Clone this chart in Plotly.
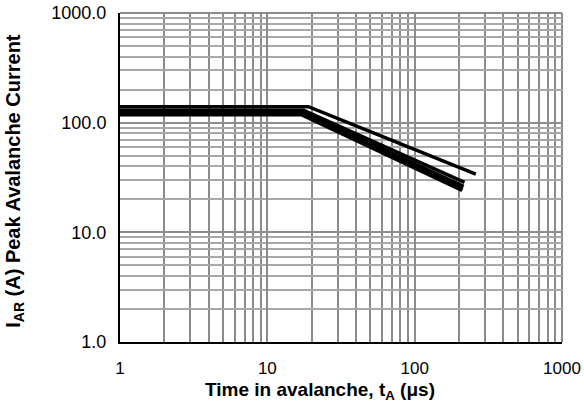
import plotly.graph_objects as go

# Curves: time (us) and peak avalanche current (A)
t_top = [1, 19, 260]
i_top = [140, 140, 34]

t_c2 = [1, 17.6, 218]
i_c2 = [130, 130, 28.5]

t_c3 = [1, 17.4, 215]
i_c3 = [125, 125, 26.2]

t_c4 = [1, 17.2, 212]
i_c4 = [121, 121, 24.8]

t_c5 = [1, 17.0, 210]
i_c5 = [118, 118, 24.1]

series = [(t_top, i_top), (t_c2, i_c2), (t_c3, i_c3), (t_c4, i_c4), (t_c5, i_c5)]

x_tickvals = [1, 10, 100, 1000]
x_ticktext = ["1", "10", "100", "1000"]
y_tickvals = [1, 10, 100, 1000]
y_ticktext = ["1.0", "10.0", "100.0", "1000.0"]

x_title = "<b>Time in avalanche, t<sub>A</sub> (μs)</b>"
y_title = "<b>I<sub>AR</sub> (A) Peak Avalanche Current</b>"

FONT = "Liberation Sans, Arial, sans-serif"
GRID = "#8c8c8c"

fig = go.Figure()
for t, i in series:
    fig.add_trace(go.Scatter(x=t, y=i, mode="lines",
                             line=dict(color="black", width=3.5),
                             showlegend=False, hoverinfo="skip"))

fig.update_layout(
    width=584, height=407,
    margin=dict(l=120, r=22, t=13, b=65),
    paper_bgcolor="white", plot_bgcolor="white",
    font=dict(family=FONT, size=17, color="black"),
    showlegend=False,
)

fig.update_xaxes(
    type="log", range=[0, 3], automargin=False,
    tickvals=x_tickvals, ticktext=x_ticktext,
    ticks="outside", ticklen=10, tickcolor="rgba(0,0,0,0)",
    showgrid=True, gridcolor=GRID, gridwidth=2,
    minor=dict(dtick="D1", showgrid=True, gridcolor=GRID, gridwidth=2, ticks=""),
    showline=True, linecolor="black", linewidth=2,
    zeroline=False,
    tickfont=dict(size=17),
)
fig.update_yaxes(
    type="log", range=[0, 3], automargin=False,
    tickvals=y_tickvals, ticktext=y_ticktext,
    ticks="outside", ticklen=8, tickcolor="rgba(0,0,0,0)",
    showgrid=True, gridcolor=GRID, gridwidth=2,
    minor=dict(dtick="D1", showgrid=True, gridcolor="#a8a8a8", gridwidth=1.5, ticks=""),
    showline=True, linecolor="black", linewidth=2,
    zeroline=False,
    tickfont=dict(size=18),
)

# axis titles
fig.add_annotation(text=x_title, xref="paper", yref="paper", x=0.4525, y=-0.149,
                   xanchor="center", yanchor="middle", showarrow=False,
                   font=dict(size=19, family=FONT))
fig.add_annotation(text=y_title, xref="paper", yref="paper", x=-0.2376, y=0.49,
                   xanchor="center", yanchor="middle", showarrow=False, textangle=-90,
                   font=dict(size=20, family=FONT))

# gray top and right frame
fig.add_shape(type="line", xref="paper", yref="paper", x0=0, x1=1, y0=1, y1=1,
              line=dict(color=GRID, width=2), layer="below")
fig.add_shape(type="line", xref="paper", yref="paper", x0=1, x1=1, y0=0, y1=1,
              line=dict(color=GRID, width=2), layer="below")

fig.write_html("out.html", config={"displayModeBar": False},
               post_script="document.body.style.margin='0';document.body.style.overflow='hidden';")
